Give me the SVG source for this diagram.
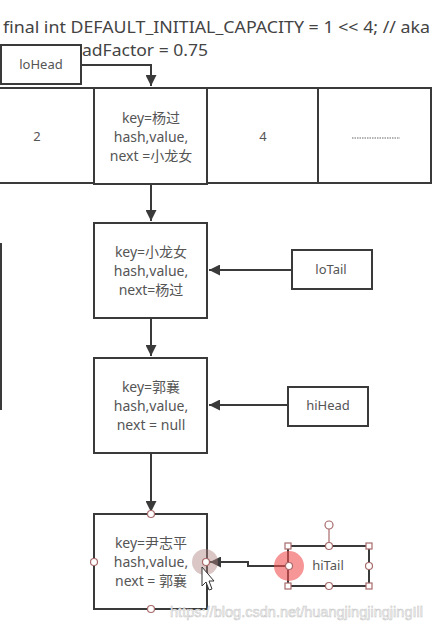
<svg xmlns="http://www.w3.org/2000/svg" width="432" height="631" viewBox="0 0 432 631">
<style>
.box{fill:#fff;stroke:#3a3a3a;stroke-width:2}
.line{fill:none;stroke:#3a3a3a;stroke-width:2}
.t{font-family:"Noto Sans","Noto Sans CJK SC",sans-serif;font-size:14px;fill:#555;text-anchor:middle}
.s{font-size:13px}
.title{font-family:"Noto Sans","Noto Sans CJK SC",sans-serif;font-size:16px;fill:#444}
.hc{fill:#fff;stroke:#a86a6a;stroke-width:1.2}
</style>
<defs>
<marker id="ah" viewBox="0 0 10 10" refX="10" refY="5" markerWidth="5.5" markerHeight="5.5" orient="auto" markerUnits="strokeWidth">
<path d="M0,0 L10,5 L0,10 z" fill="#3a3a3a"/>
</marker>
</defs>
<rect width="432" height="631" fill="#fff"/>
<text class="title" x="3" y="33" textLength="427" lengthAdjust="spacingAndGlyphs">final int DEFAULT_INITIAL_CAPACITY = 1 &lt;&lt; 4; // aka</text>
<text class="title" x="82" y="56" textLength="126" lengthAdjust="spacingAndGlyphs">adFactor = 0.75</text>

<g id="array">
<line class="line" x1="0" y1="88" x2="432" y2="88"/>
<line class="line" x1="0" y1="183" x2="432" y2="183"/>
<line class="line" x1="318" y1="88" x2="318" y2="183"/>
<line class="line" x1="431" y1="88" x2="431" y2="183"/>
<text class="t s" x="37" y="141">2</text>
<text class="t s" x="263" y="141">4</text>
<line x1="352" y1="138" x2="400" y2="138" stroke="#666" stroke-width="1" stroke-dasharray="1.5,1"/>
</g>
<line class="line" x1="1" y1="243" x2="1" y2="410"/>

<g id="connectors">
<path class="line" d="M81 65 H151 V86" marker-end="url(#ah)"/>
<path class="line" d="M151 185 V221" marker-end="url(#ah)"/>
<path class="line" d="M151 318 V356" marker-end="url(#ah)"/>
<path class="line" d="M151 453 V512" marker-end="url(#ah)"/>
<path class="line" d="M292 270 H209" marker-end="url(#ah)"/>
<path class="line" d="M288 405 H209" marker-end="url(#ah)"/>
<path class="line" d="M288 566 H248 V562 H210" marker-end="url(#ah)"/>
</g>

<g id="loHead">
<rect class="box" x="1" y="45" width="80" height="39"/>
<text class="t s" x="41" y="69">loHead</text>
</g>

<g id="node1">
<rect class="box" x="94" y="88" width="113" height="96"/>
<text class="t" x="151" y="123">key=杨过</text>
<text class="t" x="151" y="142">hash,value,</text>
<text class="t" x="151" y="161">next =小龙女</text>
</g>

<g id="node2">
<rect class="box" x="94" y="223" width="113" height="95"/>
<text class="t" x="151" y="257">key=小龙女</text>
<text class="t" x="151" y="276">hash,value,</text>
<text class="t" x="151" y="295">next=杨过</text>
</g>

<g id="loTail">
<rect class="box" x="292" y="250" width="80" height="39"/>
<text class="t s" x="331" y="274">loTail</text>
</g>

<g id="node3">
<rect class="box" x="94" y="358" width="113" height="95"/>
<text class="t" x="151" y="392">key=郭襄</text>
<text class="t" x="151" y="411">hash,value,</text>
<text class="t" x="151" y="430">next = null</text>
</g>

<g id="hiHead">
<rect class="box" x="288" y="387" width="80" height="39"/>
<text class="t s" x="328" y="410">hiHead</text>
</g>

<g id="node4">
<rect class="box" x="94" y="514" width="113" height="95"/>
<text class="t" x="151" y="548">key=尹志平</text>
<text class="t" x="151" y="567">hash,value,</text>
<text class="t" x="151" y="586">next = 郭襄</text>
<circle cx="205" cy="562" r="13" fill="#b08080" opacity="0.45"/>
<circle class="hc" cx="151" cy="514" r="3.5"/>
<circle class="hc" cx="94" cy="562" r="3.5"/>
<circle class="hc" cx="151" cy="609" r="3.5"/>
<circle class="hc" cx="206" cy="562" r="3.5"/>
</g>

<g id="hiTail">
<rect class="box" x="288" y="546" width="81" height="40"/>
<text class="t s" x="328" y="570">hiTail</text>
<circle cx="289" cy="566" r="15" fill="#f05050" opacity="0.6"/>
<line x1="329" y1="529" x2="329" y2="546" stroke="#a86a6a" stroke-width="1.2"/>
<circle class="hc" cx="329" cy="525" r="4"/>
<rect class="hc" x="285" y="543" width="6" height="6"/>
<rect class="hc" x="366" y="543" width="6" height="6"/>
<rect class="hc" x="285" y="583" width="6" height="6"/>
<rect class="hc" x="366" y="583" width="6" height="6"/>
<circle class="hc" cx="329" cy="546" r="3.5"/>
<circle class="hc" cx="329" cy="586" r="3.5"/>
<circle class="hc" cx="369" cy="566" r="3.5"/>
<circle class="hc" cx="289" cy="566" r="3.5"/>
</g>

<path d="M202 567 L202 586 L206 582 L209 590 L212 589 L209 581 L214 581 Z" fill="#fff" stroke="#333" stroke-width="1"/>

<text x="170" y="617" font-family="Liberation Sans, Arial, sans-serif" font-size="15" fill="#f4f4f4" stroke="#c4c4c4" stroke-width="0.5" textLength="253" lengthAdjust="spacingAndGlyphs">https://blog.csdn.net/huangjingjingjingIll</text>
</svg>
